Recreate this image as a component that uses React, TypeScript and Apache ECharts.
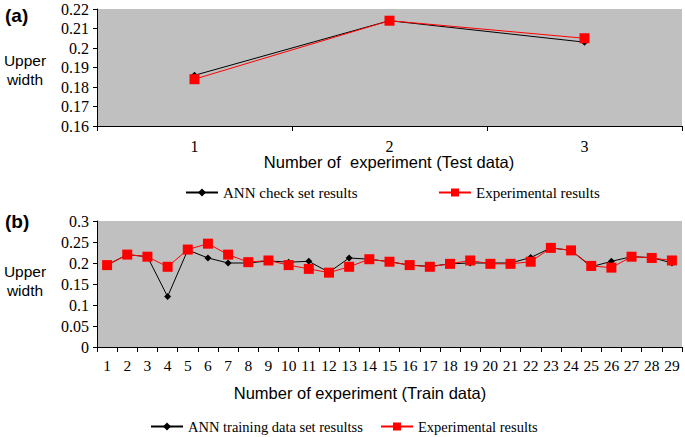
import React, { useEffect, useRef } from 'react';
import * as echarts from 'echarts';

// panel (a): test data
const testCategories = ['1', '2', '3'];
const testAnn = [0.186, 0.214, 0.203];
const testExp = [0.184, 0.214, 0.205];

// panel (b): train data
const trainCategories = Array.from({ length: 29 }, (_, i) => String(i + 1));
const trainAnn = [
  0.195, 0.22, 0.215, 0.12, 0.231, 0.212, 0.2, 0.2, 0.205, 0.202,
  0.204, 0.178, 0.212, 0.209, 0.203, 0.195, 0.192, 0.198, 0.2, 0.2,
  0.2, 0.213, 0.236, 0.23, 0.191, 0.204, 0.215, 0.213, 0.2,
];
const trainExp = [
  0.195, 0.22, 0.215, 0.191, 0.232, 0.246, 0.22, 0.202, 0.206, 0.195,
  0.186, 0.177, 0.191, 0.209, 0.203, 0.195, 0.191, 0.198, 0.206, 0.198,
  0.198, 0.203, 0.236, 0.23, 0.193, 0.189, 0.215, 0.212, 0.206,
];

const SERIF = '"Liberation Serif", "Times New Roman", serif';
const SANS = '"Liberation Sans", Arial, sans-serif';

const App: React.FC = () => {
  const chartRef = useRef<HTMLDivElement>(null);

  useEffect(() => {
    if (!chartRef.current) return;
    const chart = echarts.init(chartRef.current, null, { renderer: 'svg' });

    const fmt = (v: number) => String(+v.toFixed(2));

    const xAxisBase = {
      type: 'category' as const,
      boundaryGap: true,
      axisLine: { lineStyle: { color: '#000', width: 1 } },
      axisTick: { show: true, length: 5, lineStyle: { color: '#000' } },
      splitLine: { show: false },
    };
    const yAxisBase = {
      type: 'value' as const,
      axisLine: { show: true, lineStyle: { color: '#000', width: 1 } },
      axisTick: { show: true, length: 4, lineStyle: { color: '#000' } },
      splitLine: { show: false },
      axisLabel: { color: '#000', fontFamily: SERIF, fontSize: 16, margin: 8, formatter: fmt },
    };

    const annStyle = {
      type: 'line' as const,
      symbol: 'diamond',
      symbolSize: 7,
      lineStyle: { color: '#000', width: 1 },
      itemStyle: { color: '#000' },
    };
    const expStyle = {
      type: 'line' as const,
      symbol: 'rect',
      symbolSize: 10,
      lineStyle: { color: '#ff0000', width: 1 },
      itemStyle: { color: '#ff0000' },
    };

    const legendBase = {
      itemWidth: 32,
      itemHeight: 10,
      itemGap: 4,
      selectedMode: false as const,
    };
    const legendTextA = { color: '#000', fontFamily: SERIF, fontSize: 15 };
    const legendTextB = { color: '#000', fontFamily: SERIF, fontSize: 14.5 };

    const option: echarts.EChartsOption = {
      animation: false,
      backgroundColor: '#fff',
      grid: [
        { left: 97, top: 9, width: 585, height: 117, show: true, backgroundColor: '#c0c0c0', borderWidth: 0 },
        { left: 97, top: 221, width: 585, height: 126, show: true, backgroundColor: '#c0c0c0', borderWidth: 0 },
      ],
      xAxis: [
        {
          ...xAxisBase,
          gridIndex: 0,
          data: testCategories,
          axisLabel: { color: '#000', fontFamily: SERIF, fontSize: 16, margin: 12 },
        },
        {
          ...xAxisBase,
          gridIndex: 1,
          data: trainCategories,
          axisLabel: { color: '#000', fontFamily: SERIF, fontSize: 15.5, margin: 10, interval: 0 },
        },
      ],
      yAxis: [
        { ...yAxisBase, gridIndex: 0, min: 0.16, max: 0.22, interval: 0.01 },
        { ...yAxisBase, gridIndex: 1, min: 0, max: 0.3, interval: 0.05 },
      ],
      legend: [
        { ...legendBase, textStyle: legendTextA, left: 180, top: 180, data: ['ANN check set results'] },
        { ...legendBase, textStyle: legendTextA, left: 433, top: 180, data: ['Experimental results'] },
        { ...legendBase, textStyle: legendTextB, left: 145, top: 414, data: ['ANN training data set resultss'] },
        { ...legendBase, textStyle: legendTextB, left: 375, top: 414, data: ['Experimental results '] },
      ],
      series: [
        { ...annStyle, name: 'ANN check set results', xAxisIndex: 0, yAxisIndex: 0, data: testAnn },
        { ...expStyle, name: 'Experimental results', xAxisIndex: 0, yAxisIndex: 0, data: testExp },
        { ...annStyle, name: 'ANN training data set resultss', xAxisIndex: 1, yAxisIndex: 1, data: trainAnn },
        { ...expStyle, name: 'Experimental results ', xAxisIndex: 1, yAxisIndex: 1, data: trainExp },
      ],
      graphic: [
        {
          type: 'text', x: 5, y: 15,
          style: { text: '(a)', font: `bold 19px ${SANS}`, fill: '#000', verticalAlign: 'middle' },
        },
        {
          type: 'text', x: 5, y: 221,
          style: { text: '(b)', font: `bold 19px ${SANS}`, fill: '#000', verticalAlign: 'middle' },
        },
        {
          type: 'text', x: 25, y: 70,
          style: { text: 'Upper\nwidth', font: `15.5px ${SANS}`, fill: '#000', align: 'center', verticalAlign: 'middle', lineHeight: 19 },
        },
        {
          type: 'text', x: 25, y: 281,
          style: { text: 'Upper\nwidth', font: `15.5px ${SANS}`, fill: '#000', align: 'center', verticalAlign: 'middle', lineHeight: 19 },
        },
        {
          type: 'text', x: 389, y: 162,
          style: { text: 'Number of  experiment (Test data)', font: `16.5px ${SANS}`, fill: '#000', align: 'center', verticalAlign: 'middle' },
        },
        {
          type: 'text', x: 360, y: 393,
          style: { text: 'Number of experiment (Train data)', font: `16.5px ${SANS}`, fill: '#000', align: 'center', verticalAlign: 'middle' },
        },
      ],
    };

    chart.setOption(option);
    return () => {
      chart.dispose();
    };
  }, []);

  return (
    <div
      ref={chartRef}
      style={{ position: 'absolute', left: 0, top: 0, width: 685, height: 437 }}
    />
  );
};

export default App;
